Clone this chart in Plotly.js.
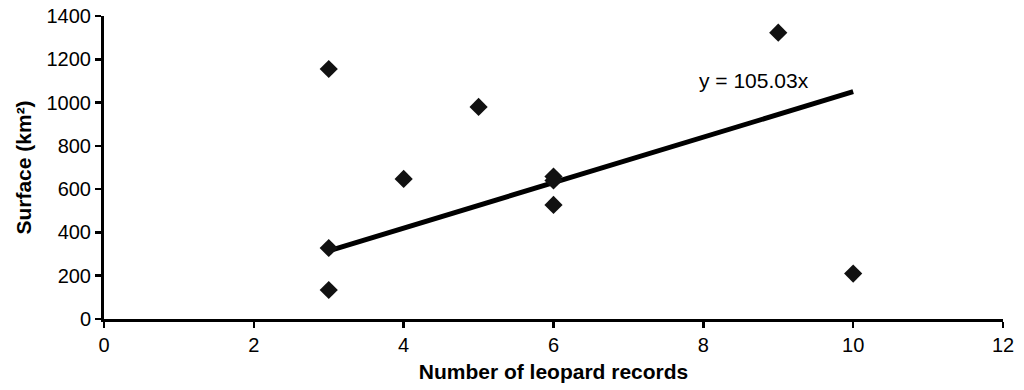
<!DOCTYPE html>
<html>
<head>
<meta charset="utf-8">
<script src="https://cdn.plot.ly/plotly-3.0.1.min.js"></script>
<style>html,body{margin:0;padding:0;background:#fff;}#chart{width:1024px;height:390px;}</style>
</head>
<body>
<div id="chart"></div>
<script>
const leopardRecords = [3, 3, 3, 4, 5, 6, 6, 6, 9, 10];
const surfaceKm2 = [1155, 328, 134, 647, 980, 658, 640, 527, 1323, 210];
const slope = 105.03;
const trendX = [3, 10];
const trendY = trendX.map(x => slope * x);
const xTicks = [0, 2, 4, 6, 8, 10, 12];
const yTicks = [0, 200, 400, 600, 800, 1000, 1200, 1400];

const traces = [
  {
    x: trendX, y: trendY, mode: 'lines', type: 'scatter',
    line: {color: '#000', width: 5}, hoverinfo: 'skip', showlegend: false
  },
  {
    x: leopardRecords, y: surfaceKm2, mode: 'markers', type: 'scatter',
    marker: {symbol: 'diamond', size: 14, color: '#111', line: {width: 0}},
    showlegend: false
  }
];

const layout = {
  width: 1024, height: 390,
  margin: {l: 104, r: 21, t: 16, b: 71},
  paper_bgcolor: '#fff', plot_bgcolor: '#fff',
  font: {family: 'Liberation Sans, Arial, sans-serif', color: '#000', size: 20},
  xaxis: {
    range: [0, 12], tickvals: xTicks, ticktext: xTicks.map(String),
    showgrid: false, zeroline: false, showline: true, linecolor: '#000', linewidth: 3,
    ticks: 'outside', ticklen: 6, tickwidth: 2.5, tickcolor: '#000',
    tickfont: {size: 20},
    title: {text: '<b>Number of leopard records</b>', font: {size: 21}, standoff: 10}
  },
  yaxis: {
    range: [0, 1400], tickvals: yTicks, ticktext: yTicks.map(String),
    showgrid: false, zeroline: false, showline: true, linecolor: '#000', linewidth: 3,
    ticks: 'outside', ticklen: 6, tickwidth: 2.5, tickcolor: '#000',
    tickfont: {size: 20},
    title: {text: '<b>Surface (km²)</b>', font: {size: 21}, standoff: 10}
  },
  annotations: [{
    x: 8.67, y: 1104, xref: 'x', yref: 'y', text: 'y = 105.03x', showarrow: false,
    font: {size: 21, color: '#000'}
  }]
};

Plotly.newPlot('chart', traces, layout, {displayModeBar: false, staticPlot: true});
</script>
</body>
</html>
